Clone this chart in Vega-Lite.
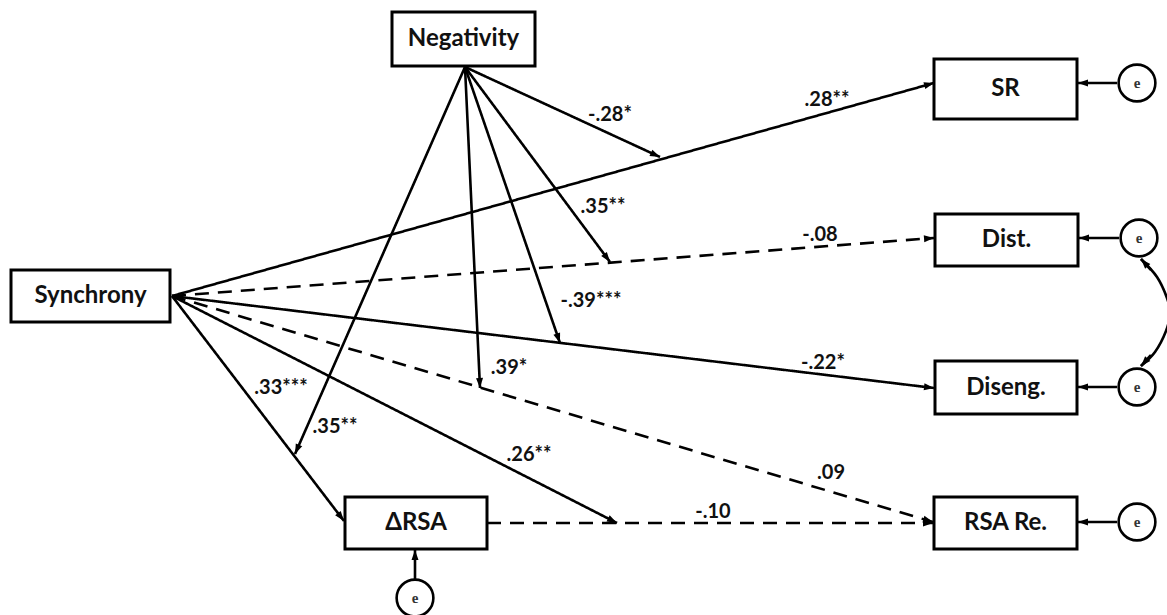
{
  "$schema": "https://vega.github.io/schema/vega-lite/v6.json",
  "width": 1167,
  "height": 615,
  "autosize": "none",
  "padding": 0,
  "background": "white",
  "config": {"view": {"stroke": null}},
  "datasets": {
    "boxes": [
      {"name": "Negativity", "x1": 392, "y1": 12, "x2": 535, "y2": 66},
      {"name": "Synchrony", "x1": 11, "y1": 270, "x2": 170, "y2": 322},
      {"name": "SR", "x1": 934, "y1": 59, "x2": 1077, "y2": 119},
      {"name": "Dist.", "x1": 935, "y1": 214, "x2": 1078, "y2": 266},
      {"name": "Diseng.", "x1": 935, "y1": 361, "x2": 1077, "y2": 414},
      {"name": "RSA Re.", "x1": 934, "y1": 497, "x2": 1077, "y2": 549},
      {"name": "ΔRSA", "x1": 345, "y1": 497, "x2": 487, "y2": 549}
    ],
    "edges": [
      {"x1": 172, "y1": 296, "x2": 934, "y2": 83, "style": "solid", "arrow": true},
      {"x1": 172, "y1": 296, "x2": 934, "y2": 238, "style": "dashed", "arrow": true},
      {"x1": 172, "y1": 296, "x2": 934, "y2": 388, "style": "solid", "arrow": true},
      {"x1": 172, "y1": 296, "x2": 933, "y2": 522, "style": "dashed", "arrow": true},
      {"x1": 172, "y1": 296, "x2": 344, "y2": 521, "style": "solid", "arrow": true},
      {"x1": 172, "y1": 296, "x2": 617, "y2": 523, "style": "solid", "arrow": true},
      {"x1": 487, "y1": 523, "x2": 933, "y2": 523, "style": "dashed", "arrow": true},
      {"x1": 465, "y1": 67, "x2": 660, "y2": 157, "style": "solid", "arrow": true},
      {"x1": 465, "y1": 67, "x2": 610, "y2": 262, "style": "solid", "arrow": true},
      {"x1": 465, "y1": 67, "x2": 560, "y2": 343, "style": "solid", "arrow": true},
      {"x1": 465, "y1": 67, "x2": 480, "y2": 388, "style": "solid", "arrow": true},
      {"x1": 465, "y1": 67, "x2": 295, "y2": 454, "style": "solid", "arrow": true},
      {"x1": 1117, "y1": 83, "x2": 1078, "y2": 83, "style": "solid", "arrow": true},
      {"x1": 1119, "y1": 238, "x2": 1079, "y2": 238, "style": "solid", "arrow": true},
      {"x1": 1117, "y1": 387, "x2": 1078, "y2": 387, "style": "solid", "arrow": true},
      {"x1": 1117, "y1": 522, "x2": 1078, "y2": 522, "style": "solid", "arrow": true},
      {"x1": 415, "y1": 579, "x2": 415, "y2": 550, "style": "solid", "arrow": true},
      {"x1": 1151, "y1": 270, "x2": 1141, "y2": 259, "style": "solid", "arrow": true},
      {"x1": 1151, "y1": 355, "x2": 1141, "y2": 366, "style": "solid", "arrow": true}
    ],
    "curve": [
      {"k": 1, "x": 1141, "y": 259},
      {"k": 2, "x": 1157, "y": 277},
      {"k": 3, "x": 1167, "y": 298},
      {"k": 4, "x": 1170, "y": 313},
      {"k": 5, "x": 1166, "y": 331},
      {"k": 6, "x": 1155, "y": 352},
      {"k": 7, "x": 1141, "y": 366}
    ],
    "errors": [
      {"x": 1137, "y": 83},
      {"x": 1139, "y": 238},
      {"x": 1137, "y": 387},
      {"x": 1137, "y": 522},
      {"x": 415, "y": 598}
    ],
    "labels": [
      {"t": "-.28*", "x": 610, "y": 115},
      {"t": ".35**", "x": 603, "y": 207},
      {"t": "-.39***", "x": 591, "y": 301},
      {"t": ".39*", "x": 509, "y": 368},
      {"t": ".33***", "x": 281, "y": 388},
      {"t": ".35**", "x": 335, "y": 427},
      {"t": ".26**", "x": 529, "y": 455},
      {"t": "-.10", "x": 713, "y": 512},
      {"t": ".09", "x": 831, "y": 473},
      {"t": "-.22*", "x": 823, "y": 363},
      {"t": "-.08", "x": 820, "y": 235},
      {"t": ".28**", "x": 827, "y": 100}
    ]
  },
  "layer": [
    {
      "data": {"name": "curve"},
      "mark": {"type": "line", "interpolate": "cardinal", "color": "black", "strokeWidth": 2.6},
      "encoding": {
        "x": {"field": "x", "type": "quantitative", "scale": {"domain": [0, 1167], "nice": false, "zero": false}, "axis": null},
        "y": {"field": "y", "type": "quantitative", "scale": {"domain": [0, 615], "nice": false, "zero": false, "reverse": true}, "axis": null},
        "order": {"field": "k", "type": "quantitative"}
      }
    },
    {
      "data": {"name": "edges"},
      "mark": {"type": "rule", "color": "black", "strokeWidth": 2.6},
      "encoding": {
        "x": {"field": "x1", "type": "quantitative"},
        "y": {"field": "y1", "type": "quantitative"},
        "x2": {"field": "x2"},
        "y2": {"field": "y2"},
        "strokeDash": {"field": "style", "type": "nominal", "scale": {"domain": ["solid", "dashed"], "range": [[1, 0], [14, 9]]}, "legend": null}
      }
    },
    {
      "data": {"name": "boxes"},
      "mark": {"type": "rect", "fill": "white", "stroke": "black", "strokeWidth": 3},
      "encoding": {
        "x": {"field": "x1", "type": "quantitative"},
        "x2": {"field": "x2"},
        "y": {"field": "y1", "type": "quantitative"},
        "y2": {"field": "y2"}
      }
    },
    {
      "data": {"name": "errors"},
      "mark": {"type": "point", "shape": "circle", "filled": false, "fill": "white", "fillOpacity": 1, "stroke": "black", "strokeWidth": 2.6, "size": 1350, "opacity": 1},
      "encoding": {
        "x": {"field": "x", "type": "quantitative"},
        "y": {"field": "y", "type": "quantitative"}
      }
    },
    {
      "data": {"name": "errors"},
      "mark": {"type": "text", "text": "e", "font": "Liberation Serif", "fontSize": 15, "fontWeight": "bold", "baseline": "middle", "align": "center", "color": "#333"},
      "encoding": {
        "x": {"field": "x", "type": "quantitative"},
        "y": {"field": "y", "type": "quantitative"}
      }
    },
    {
      "data": {"name": "edges"},
      "transform": [
        {"filter": "datum.arrow"},
        {"calculate": "atan2(datum.x2 - datum.x1, -(datum.y2 - datum.y1)) * 180 / PI", "as": "ang"}
      ],
      "mark": {"type": "point", "shape": "M0,0L-0.7,2L0.7,2Z", "filled": true, "color": "black", "opacity": 1, "size": 100, "strokeWidth": 0},
      "encoding": {
        "x": {"field": "x2", "type": "quantitative"},
        "y": {"field": "y2", "type": "quantitative"},
        "angle": {"field": "ang", "type": "quantitative", "scale": null}
      }
    },
    {
      "data": {"name": "labels"},
      "mark": {"type": "text", "font": "Lato", "fontWeight": "bold", "fontSize": 20, "baseline": "middle", "align": "center", "color": "#111"},
      "encoding": {
        "x": {"field": "x", "type": "quantitative"},
        "y": {"field": "y", "type": "quantitative"},
        "text": {"field": "t"}
      }
    },
    {
      "data": {"name": "boxes"},
      "transform": [
        {"calculate": "(datum.x1 + datum.x2) / 2", "as": "cx"},
        {"calculate": "(datum.y1 + datum.y2) / 2", "as": "cy"}
      ],
      "mark": {"type": "text", "font": "Lato", "fontWeight": "bold", "fontSize": 24, "baseline": "middle", "align": "center", "color": "#111"},
      "encoding": {
        "x": {"field": "cx", "type": "quantitative"},
        "y": {"field": "cy", "type": "quantitative"},
        "text": {"field": "name"}
      }
    }
  ]
}
